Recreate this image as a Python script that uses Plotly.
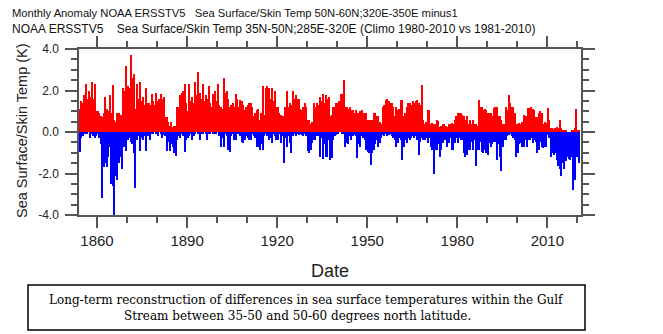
import plotly.graph_objects as go

# Half-year peak anomalies (K), 1854-2020, two values per year
start_year = 1854
step = 0.5

warm = [
    # 1854-1863
    1.1, 1.5, 1.4, 1.8, 2.3, 1.6, 2.0, 1.7, 2.4, 1.6,
    2.3, 1.0, 1.0, 0.9, 0.75, 0.7, 0.9, 1.7, 1.1, 1.0,
    # 1864-1873
    1.8, 0.9, 2.25, 0.6, 0.5, 0.9, 0.9, 0.8, 0.8, 2.1,
    2.0, 3.2, 2.2, 2.1, 3.7, 2.6, 2.8, 1.1, 2.3, 1.6,
    # 1874-1883
    2.4, 1.5, 1.7, 1.3, 2.1, 1.4, 1.4, 1.3, 1.85, 1.5,
    1.3, 1.9, 1.5, 1.6, 1.85, 1.6, 1.7, 0.7, 0.7, 0.5,
    # 1884-1893
    0.3, 0.5, 0.25, 0.3, 0.3, 1.2, 1.2, 1.8, 1.9, 2.0,
    2.3, 1.4, 1.0, 2.3, 1.5, 1.7, 1.4, 2.4, 1.8, 2.9,
    # 1894-1903
    1.9, 1.6, 2.3, 1.5, 1.8, 1.6, 2.2, 1.4, 1.2, 1.85,
    2.0, 1.5, 2.3, 1.3, 1.2, 1.1, 2.6, 1.9, 2.0, 1.6,
    # 1904-1913
    1.2, 1.3, 1.4, 1.2, 1.85, 1.6, 1.2, 1.55, 1.5, 1.3,
    1.05, 1.2, 1.3, 1.4, 1.4, 1.2, 0.75, 0.9, 1.05, 1.1,
    # 1914-1923
    0.6, 0.9, 2.2, 0.8, 2.1, 2.2, 2.1, 1.6, 2.1, 1.5,
    2.0, 1.2, 1.2, 0.9, 0.8, 0.75, 0.75, 1.2, 2.0, 1.2,
    # 1924-1933
    1.4, 1.3, 2.0, 1.6, 1.8, 1.6, 1.6, 1.1, 1.05, 1.2,
    1.4, 1.2, 0.6, 0.6, 0.4, 0.5, 1.4, 1.2, 1.4, 1.3,
    # 1934-1943
    1.7, 1.5, 1.85, 1.4, 1.8, 1.6, 1.7, 0.75, 0.8, 1.2,
    1.2, 1.4, 1.4, 1.5, 1.85, 1.85, 2.5, 1.2, 1.2, 1.1,
    # 1944-1953
    1.2, 1.05, 1.05, 0.9, 1.05, 0.9, 0.9, 1.0, 1.05, 0.9,
    0.9, 0.9, 0.6, 0.6, 0.6, 0.6, 0.9, 0.9, 0.75, 0.75,
    # 1954-1963
    0.5, 0.4, 1.2, 1.3, 1.55, 1.6, 1.5, 1.4, 1.4, 1.2,
    0.75, 1.2, 1.05, 1.1, 1.55, 1.55, 0.75, 0.9, 1.2, 1.4,
    # 1964-1973
    1.4, 1.3, 1.5, 1.4, 1.5, 1.55, 1.4, 1.3, 2.25, 0.6,
    0.4, 0.5, 1.05, 1.05, 0.4, 0.45, 0.4, 0.4, 0.6, 0.55,
    # 1974-1983
    0.25, 0.3, 0.4, 0.4, 0.3, 0.25, 0.4, 0.4, 0.45, 0.4,
    0.6, 0.75, 0.9, 0.9, 0.9, 0.8, 0.75, 0.6, 0.75, 0.4,
    # 1984-1993
    0.6, 0.4, 0.6, 0.4, 0.4, 0.3, 1.55, 1.2, 1.2, 1.05,
    1.1, 1.05, 0.9, 0.9, 0.9, 0.75, 1.15, 1.2, 1.2, 0.75,
    # 1994-2003
    0.75, 0.6, 0.4, 0.4, 1.2, 1.05, 1.8, 1.4, 1.2, 1.2,
    0.9, 0.4, 0.4, 0.45, 0.4, 0.5, 0.8, 0.75, 0.75, 1.15,
    # 2004-2013
    1.15, 1.2, 1.1, 1.05, 0.7, 0.7, 0.9, 1.0, 0.9, 0.4,
    0.5, 0.45, 1.15, 0.6, 0.2, 0.2, 0.15, 0.2, 0.25, 0.2,
    # 2014-2020
    0.6, 0.2, 0.1, 0.1, 0.05, 0.0, 0.0, 0.0, 0.1, 0.05,
    0.2, 1.1, 0.1, 0.1,
]

cold = [
    # 1854-1863
    -0.95, -0.3, -0.2, -0.1, -0.1, -0.1, 0.0, -0.3, -0.1, -0.2,
    -0.3, -0.2, -0.1, -0.3, -0.6, -3.2, -1.7, -1.5, -1.7, -1.2,
    # 1864-1873
    -0.7, -2.5, -2.6, -4.0, -2.1, -2.3, -1.5, -1.2, -1.8, -0.7,
    -0.7, -0.9, -0.4, -0.3, -0.5, -0.6, -1.0, -2.7, -0.4, -0.2,
    # 1874-1883
    -0.9, -0.3, -0.4, -0.2, -0.9, -0.2, -0.2, -0.4, -0.1, -0.1,
    0.0, -0.1, -0.2, 0.0, -0.1, -0.3, -0.15, -0.2, -0.9, -0.5,
    # 1884-1893
    -0.9, -0.6, -0.7, -1.0, -1.15, -0.4, -0.2, -0.3, -0.1, -0.2,
    -0.95, -0.4, -0.3, -0.2, -0.1, -0.4, -0.2, -0.1, 0.0, -0.1,
    # 1894-1903
    -0.4, -0.1, -0.1, 0.0, -0.1, -0.4, -0.1, -0.1, 0.0, -0.1,
    -0.1, -0.1, 0.0, -0.2, -0.7, -0.3, -0.7, -0.1, -0.2, -0.85,
    # 1904-1913
    -0.95, -0.2, -0.1, -0.4, -0.4, -0.1, -0.1, -0.2, -0.5, -0.55,
    -0.4, -0.2, -0.3, -0.4, -0.4, -0.1, -0.2, -0.3, -0.7, -0.7,
    # 1914-1923
    -0.85, -0.6, -0.85, -0.2, -0.1, -0.2, -0.4, -0.3, -0.55, -0.1,
    -0.2, -0.4, -0.4, -0.1, -0.55, -0.2, -1.5, -0.3, -0.7, -0.2,
    # 1924-1933
    -0.55, -1.0, -0.2, -0.1, -0.2, -0.1, -0.15, -0.1, -0.15, -0.2,
    -0.1, -0.2, -0.9, -1.0, -0.85, -0.55, -0.4, -0.4, -0.2, -0.2,
    # 1934-1943
    -1.2, -0.3, -1.3, -0.6, -1.2, -1.2, -0.4, -1.35, -1.25, -0.4,
    -0.2, -0.15, -0.1, 0.0, 0.0, -0.1, -0.1, -0.7, -0.55, -0.6,
    # 1944-1953
    -0.2, -0.4, -0.2, -0.15, -0.2, -1.25, -0.6, -0.7, -0.2, -0.3,
    -0.4, -0.85, -0.95, -1.0, -1.6, -1.0, -0.85, -0.6, -0.4, -0.7,
    # 1954-1963
    -0.55, -0.3, -0.15, -0.2, -0.1, -0.2, -0.15, -0.1, -0.2, -0.3,
    -0.4, -0.7, -0.55, -0.3, -0.4, -1.35, -0.7, -0.4, -0.55, -0.3,
    # 1964-1973
    -0.4, -0.3, -0.2, -0.3, -0.2, -0.4, -1.1, -0.5, -0.3, -0.4,
    -0.4, -0.3, -0.55, -0.3, -0.7, -0.85, -2.0, -0.85, -0.85, -0.6,
    # 1974-1983
    -1.2, -0.85, -0.55, -0.4, -0.4, -0.7, -0.55, -0.3, -0.85, -0.85,
    -0.55, -0.3, -0.55, -0.3, -0.4, -0.4, -1.0, -1.2, -1.1, -0.85,
    # 1984-1993
    -0.85, -0.5, -0.85, -0.4, -1.65, -0.85, -0.85, -0.5, -0.95, -1.0,
    -0.85, -1.0, -1.1, -0.55, -0.7, -0.6, -0.5, -0.5, -1.35, -0.6,
    # 1994-2003
    -1.2, -1.9, -0.7, -0.4, -0.4, -0.2, -0.15, -0.1, -0.2, -0.3,
    -0.4, -1.2, -1.0, -0.6, -0.55, -0.7, -0.7, -0.4, -0.7, -0.4,
    # 2004-2013
    -0.4, -0.3, -0.55, -0.4, -0.5, -1.0, -0.85, -0.5, -0.7, -0.75,
    -0.7, -0.7, -0.15, -0.3, -1.2, -1.0, -1.1, -1.0, -1.35, -1.65,
    # 2014-2020
    -1.8, -2.1, -1.5, -1.8, -1.4, -1.2, -1.3, -1.35, -1.2, -2.8,
    -2.3, -1.2, -1.2, -1.5,
]

year_ticks = [1860, 1890, 1920, 1950, 1980, 2010]
temp_ticks = [-4.0, -2.0, 0.0, 2.0, 4.0]
temp_labels = ["-4.0", "-2.0", "0.0", "2.0", "4.0"]

title_lines = [
    "Monthly Anomaly NOAA ERSSTV5" + "\u00a0" * 3 + "Sea Surface/Skin Temp 50N-60N;320E-350E minus1",
    "NOAA ERSSTV5" + "\u00a0" * 4 + "Sea Surface/Skin Temp 35N-50N;285E-320E (Climo 1980-2010 vs 1981-2010)",
]
title_sizes = [11.2, 12]
caption_lines = [
    "Long-term reconstruction of differences in sea surface temperatures within the Gulf",
    "Stream between 35-50 and 50-60 degrees north latitude.",
]

times = [start_year + step * (i + 0.5) for i in range(len(warm))]

W, H = 663, 334
L, R, T, B = 79, 82, 49, 119
pw, ph = W - L - R, H - T - B


def px(xp):
    return (xp - L) / pw


def py(yp):
    return (H - B - yp) / ph


SANS = "Liberation Sans, Arial, Helvetica, sans-serif"
SERIF = "DejaVu Serif, Palatino Linotype, serif"

fig = go.Figure()
fig.add_trace(go.Bar(x=times, y=warm, width=step, marker=dict(color="#ff0000", line=dict(width=0)),
                     showlegend=False))
fig.add_trace(go.Bar(x=times, y=cold, width=step, marker=dict(color="#0000ff", line=dict(width=0)),
                     showlegend=False))

axis_common = dict(
    showline=True, linecolor="#555", linewidth=1.5, mirror="allticks",
    ticks="outside", tickcolor="#555", tickwidth=1.5,
    showgrid=False, zeroline=False,
)

fig.update_xaxes(
    range=[1854, 2021.2], tickvals=year_ticks, ticklen=11,
    tickfont=dict(family=SANS, size=15, color="#222"),
    minor=dict(dtick=10, tick0=1850, ticklen=6, ticks="outside", tickcolor="#555", tickwidth=1.5),
    **axis_common,
)
fig.update_yaxes(
    range=[-4, 4], tickvals=temp_ticks, ticktext=temp_labels, ticklen=12,
    ticklabelstandoff=4,
    tickfont=dict(family=SANS, size=12, color="#222"),
    minor=dict(dtick=0.5, tick0=0, ticklen=6, ticks="outside", tickcolor="#555", tickwidth=1.5),
    **axis_common,
)

annotations = []
for line, size, yp in zip(title_lines, title_sizes, [13, 29]):
    annotations.append(dict(text=line, x=px(10), y=py(yp), xref="paper", yref="paper",
                            xanchor="left", yanchor="middle", showarrow=False,
                            font=dict(family=SANS, size=size, color="#111")))
annotations.append(dict(text="Sea Surface/Skin Temp (K)", x=px(22), y=py(131), xref="paper", yref="paper",
                        textangle=-90, showarrow=False, xanchor="center", yanchor="middle",
                        font=dict(family=SANS, size=14.5, color="#222")))
annotations.append(dict(text="Date", x=0.5, y=py(271), xref="paper", yref="paper", showarrow=False,
                        xanchor="center", yanchor="middle", font=dict(family=SANS, size=18, color="#222")))
for line, xc, yp in zip(caption_lines, [306, 297], [300, 316]):
    annotations.append(dict(text=line, x=px(xc), y=py(yp), xref="paper", yref="paper", showarrow=False,
                            xanchor="center", yanchor="middle",
                            font=dict(family=SERIF, size=12, color="#000")))

fig.add_shape(type="rect", xref="paper", yref="paper", x0=px(28), x1=px(585), y0=py(330), y1=py(285),
              line=dict(color="#000", width=1.5), fillcolor="rgba(0,0,0,0)")

fig.update_layout(
    width=W, height=H, margin=dict(l=L, r=R, t=T, b=B, pad=0),
    paper_bgcolor="white", plot_bgcolor="white",
    barmode="relative", bargap=0,
    annotations=annotations,
)

fig.write_html("out.html")
